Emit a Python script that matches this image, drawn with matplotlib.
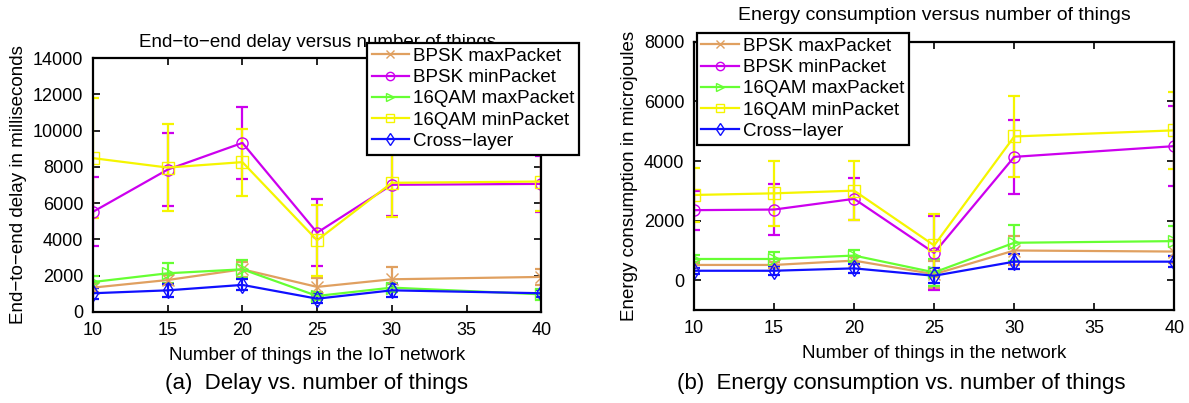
import numpy as np
import matplotlib
matplotlib.use("Agg")
import matplotlib.pyplot as plt

plt.rcParams['font.family'] = ['Liberation Sans', 'DejaVu Sans']

things = [10, 15, 20, 25, 30, 40]
series_names = ['BPSK maxPacket', 'BPSK minPacket', '16QAM maxPacket',
                '16QAM minPacket', 'Cross\u2212layer']

# End-to-end delay (ms)
delay_bpsk_max = [1340, 1760, 2350, 1380, 1800, 1930]
delay_bpsk_min = [5520, 7850, 9320, 4370, 7010, 7060]
delay_qam_max = [1650, 2130, 2350, 880, 1340, 970]
delay_qam_min = [8480, 7960, 8260, 3950, 7120, 7190]
delay_cross = [1030, 1190, 1490, 730, 1190, 1030]

delay_err_bpsk_max = [250, 300, 400, 500, 650, 450]
delay_err_bpsk_min = [1900, 2000, 2000, 1850, 1700, 1550]
delay_err_qam_max = [350, 550, 500, 200, 250, 300]
delay_err_qam_min = [3300, 2400, 1850, 1950, 1900, 1600]
delay_err_cross = [300, 350, 300, 250, 350, 200]

# Energy consumption (microjoules)
energy_bpsk_max = [510, 510, 655, 200, 995, 960]
energy_bpsk_min = [2350, 2370, 2730, 915, 4140, 4500]
energy_qam_max = [710, 710, 825, 260, 1255, 1310]
energy_qam_min = [2860, 2915, 3005, 1165, 4825, 5030]
energy_cross = [315, 315, 395, 147, 620, 620]

energy_err_bpsk_max = [100, 100, 120, 450, 500, 400]
energy_err_bpsk_min = [650, 870, 700, 1250, 1250, 1350]
energy_err_qam_max = [150, 250, 200, 450, 600, 500]
energy_err_qam_min = [900, 1100, 1000, 1050, 1350, 1300]
energy_err_cross = [100, 150, 150, 250, 250, 180]

colors = ['#e0a060', '#cc00ee', '#66ff33', '#f5f500', '#1010ff']
markers = ['x', 'o', '>', 's', 'd']


def draw_panel(ax, values, errors):
    handles = []
    for name, y, e, c, m in zip(series_names, values, errors, colors, markers):
        cont = ax.errorbar(things, y, yerr=e, color=c, ecolor=c, marker=m,
                           markerfacecolor='none', markeredgecolor=c, markersize=8,
                           linewidth=1.6, elinewidth=1.6, capsize=4, capthick=1.6,
                           label=name)
        handles.append(cont[0])
    ax.set_xlim(10, 40)
    ax.set_xticks([10, 15, 20, 25, 30, 35, 40])
    ax.tick_params(direction='in', top=True, right=True, labelsize=13,
                   length=5, width=1.2, pad=7)
    for s in ax.spines.values():
        s.set_linewidth(1.6)
    return handles


def add_legend(ax, handles, anchor):
    leg = ax.legend(handles, series_names, loc='upper left', bbox_to_anchor=anchor,
                    bbox_transform=fig.transFigure, fontsize=13.5, frameon=True,
                    fancybox=False, edgecolor='black', framealpha=1,
                    borderpad=0.25, labelspacing=0.22, handlelength=2.0,
                    handletextpad=0.2, borderaxespad=0, markerscale=0.75)
    leg.get_frame().set_linewidth(1.6)
    leg.set_zorder(10)
    return leg


fig = plt.figure(figsize=(11.89, 4.03), dpi=100)

ax1 = fig.add_axes([0.0782, 0.226, 0.377, 0.630])
h1 = draw_panel(ax1,
                [delay_bpsk_max, delay_bpsk_min, delay_qam_max, delay_qam_min, delay_cross],
                [delay_err_bpsk_max, delay_err_bpsk_min, delay_err_qam_max,
                 delay_err_qam_min, delay_err_cross])
ax1.set_ylim(0, 14000)
ax1.set_yticks(range(0, 14001, 2000))
ax1.set_title('End\u2212to\u2212end delay versus number of things', fontsize=13.5, pad=8)
ax1.set_xlabel('Number of things in the IoT network', fontsize=13.5, labelpad=6)
ax1.set_ylabel('End\u2212to\u2212end delay in milliseconds', fontsize=13.5, labelpad=4)
add_legend(ax1, h1, (0.3087, 0.893))

ax2 = fig.add_axes([0.5837, 0.231, 0.404, 0.665])
h2 = draw_panel(ax2,
                [energy_bpsk_max, energy_bpsk_min, energy_qam_max, energy_qam_min, energy_cross],
                [energy_err_bpsk_max, energy_err_bpsk_min, energy_err_qam_max,
                 energy_err_qam_min, energy_err_cross])
ax2.set_ylim(-1000, 8000)
ax2.set_yticks(range(0, 8001, 2000))
ax2.set_title('Energy consumption versus number of things', fontsize=14, pad=16)
ax2.set_xlabel('Number of things in the network', fontsize=13.5, labelpad=6)
ax2.set_ylabel('Energy consumption in microjoules', fontsize=13.5, labelpad=4)
add_legend(ax2, h2, (0.586, 0.918))

fig.text(0.266, 0.035, '(a)  Delay vs. number of things', ha='center', fontsize=16)
fig.text(0.758, 0.035, '(b)  Energy consumption vs. number of things', ha='center',
         fontsize=16)

fig.savefig('out.png', dpi=100)
